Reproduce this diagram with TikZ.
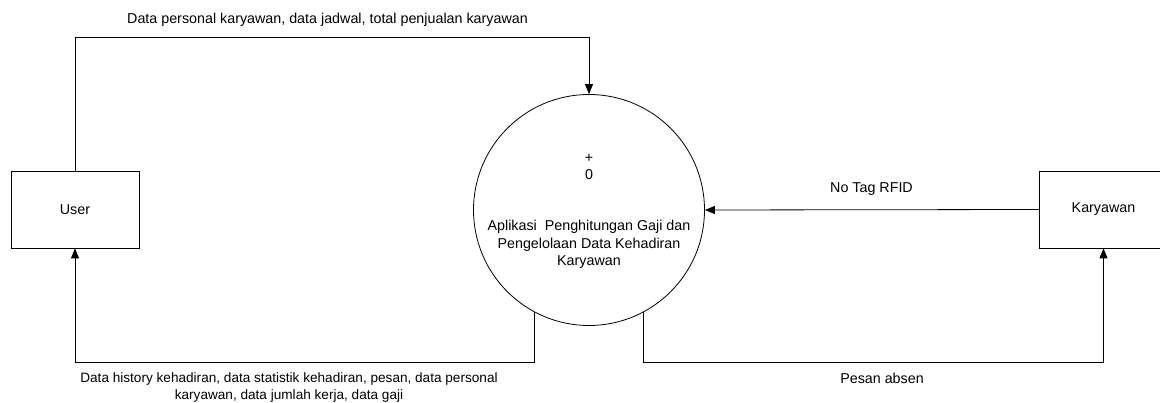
\documentclass[tikz,border=0pt]{standalone}
\usepackage{fontspec}
\setmainfont{Liberation Sans}
\usetikzlibrary{arrows.meta}
\begin{document}
\begin{tikzpicture}[x=1pt,y=-1pt,
  font=\fontsize{14.3}{17.3}\selectfont,
  entity/.style={draw, line width=0.8pt, minimum width=128pt, minimum height=77pt, inner sep=0pt},
  process/.style={draw, line width=0.8pt, circle, minimum size=231pt, inner sep=0pt},
  flow/.style={line width=0.8pt, -{Triangle[length=10pt,width=8pt]}},
  lbl/.style={align=center, inner sep=0pt}]
\useasboundingbox (0,0) rectangle (1160,403);
\clip (0,0) rectangle (1160,403);
\node[entity] (user) at (75,209.5) {User};
\node[entity] (kar) at (1103.5,209.5) {Karyawan};
\node[process] (proc) at (589,210) {};
\node[lbl] (plus) at (589,158) {+};
\node[lbl] (zero) at (589,175) {0};
\node[lbl] (ptext) at (589,244.5) {Aplikasi\ \ Penghitungan Gaji dan\\Pengelolaan Data Kehadiran\\Karyawan};
\coordinate (ty) at (0,37);
\coordinate (by) at (0,362);
\draw[flow] (user.north) |- (ty -| proc.north) -- (proc.north);
\draw[flow] (kar.west) -- (proc.east);
\draw[flow] (proc.242) |- (by -| user.south) -- (user.south);
\draw[flow] (proc.298) |- (by -| kar.south) -- (kar.south);
\node[lbl] (l1) at (327.5,20) {Data personal karyawan, data jadwal, total penjualan karyawan};
\node[lbl] (l2) at (871.5,189) {No Tag RFID};
\node[lbl, font=\fontsize{13.6}{17}\selectfont] (l3) at (289,387.5) {Data history kehadiran, data statistik kehadiran, pesan, data personal\\karyawan, data jumlah kerja, data gaji};
\node[lbl] (l4) at (882,378) {Pesan absen};
\end{tikzpicture}
\end{document}
